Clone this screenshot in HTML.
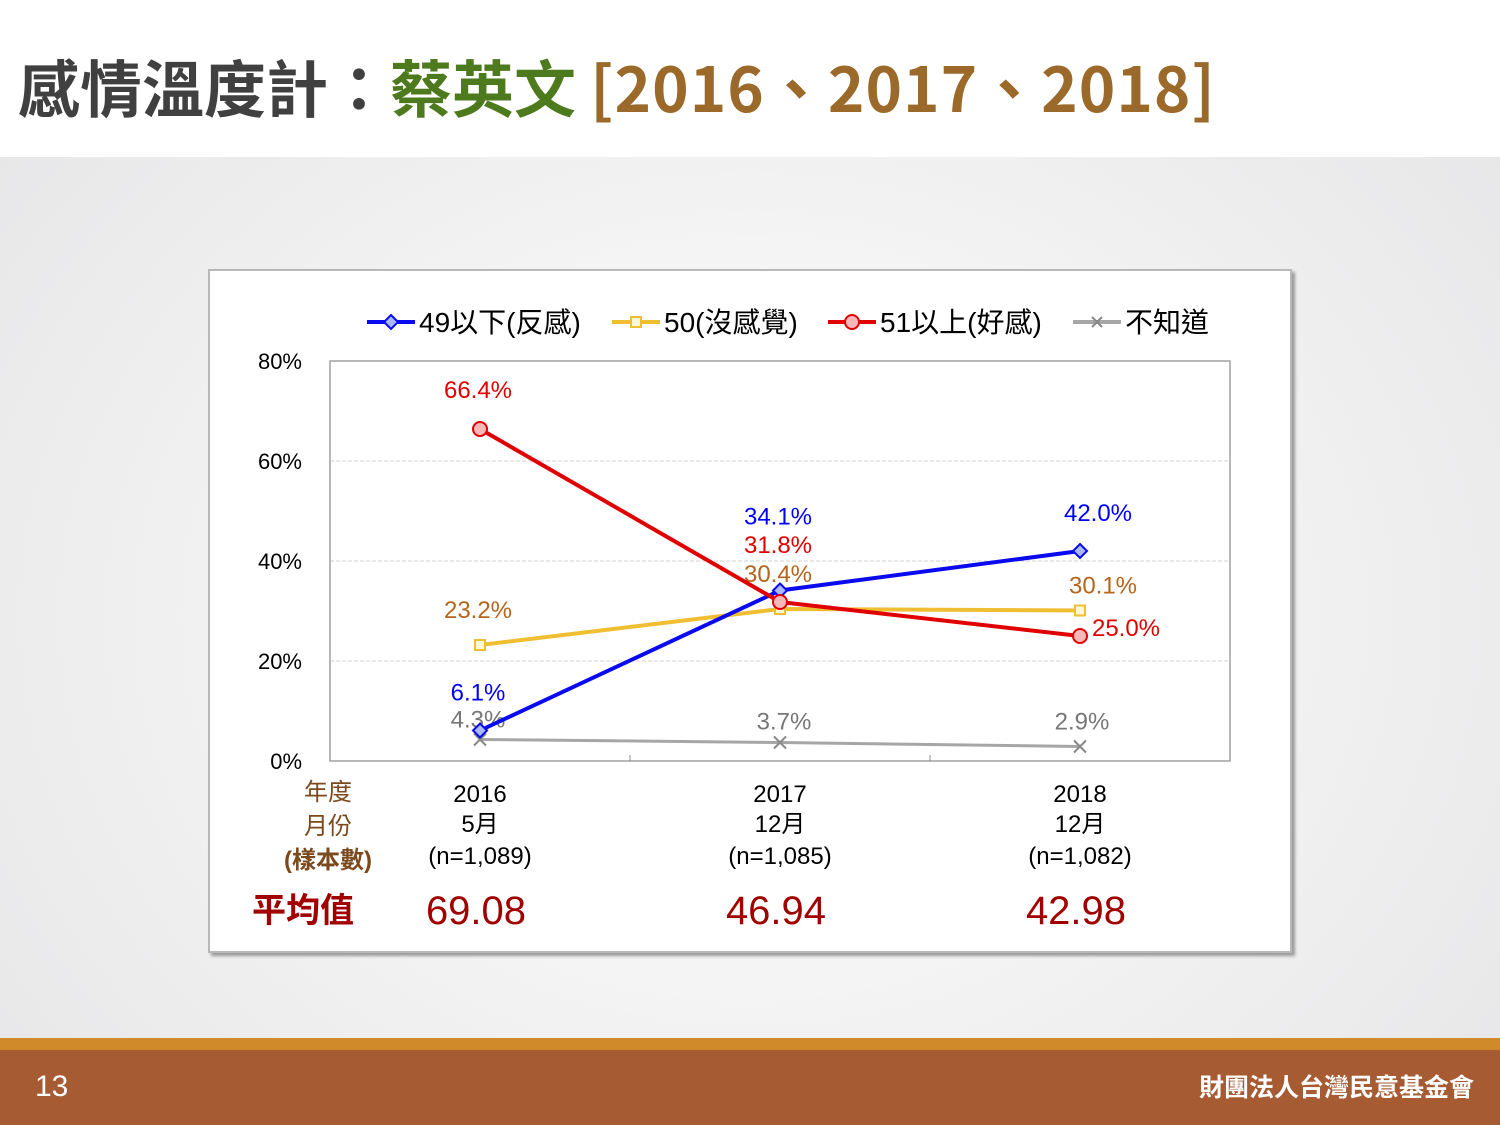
<!DOCTYPE html>
<html><head><meta charset="utf-8">
<style>
body{margin:0;width:1500px;height:1125px;overflow:hidden;position:relative;font-family:"Liberation Sans","Noto Sans CJK TC",sans-serif;background:radial-gradient(ellipse at 50% 55%,#ffffff 0%,#f3f3f3 45%,#e4e4e6 100%);}
#hdr{position:absolute;left:0;top:0;width:1500px;height:157px;background:#fff;}
#title{position:absolute;left:18px;top:40px;font-size:62px;font-weight:bold;white-space:nowrap;color:#404040;font-family:"Noto Sans CJK TC","Liberation Sans",sans-serif;}
#foot1{position:absolute;left:0;top:1038px;width:1500px;height:12px;background:#d08a2a;}
#foot2{position:absolute;left:0;top:1050px;width:1500px;height:75px;background:#a65b33;}
#frame{position:absolute;left:208px;top:269px;width:1080px;height:680px;background:#fff;border:2px solid #b8b8b8;box-shadow:3px 3px 3px #999;}
</style></head><body>
<div id="hdr"></div>
<div id="title">感情溫度計：<span style="color:#4e7a1e">蔡英文</span> <span style="color:#9b6a2a;letter-spacing:1px">[2016、2017、2018]</span></div>
<div id="frame"></div>
<div id="foot1"></div>
<div id="foot2"></div>
<div style="position:absolute;left:35px;top:1070px;font-size:30px;color:#fff">13</div>
<div style="position:absolute;right:26px;top:1068px;font-size:25px;color:#fff;font-weight:bold;font-family:'Noto Sans CJK TC',sans-serif">財團法人台灣民意基金會</div>
<svg id="chart" width="1500" height="1125" style="position:absolute;left:0;top:0" font-family="Liberation Sans, Noto Sans CJK TC, sans-serif"></svg>
<script>
const categories=["2016","2017","2018"];
const months=["5月","12月","12月"];
const samples=["(n=1,089)","(n=1,085)","(n=1,082)"];
const averages=["69.08","46.94","42.98"];
const against=[6.1,34.1,42.0];
const neutral=[23.2,30.4,30.1];
const favor=[66.4,31.8,25.0];
const unknown=[4.3,3.7,2.9];
const yTicks=[0,20,40,60,80];
const seriesNames=["49以下(反感)","50(沒感覺)","51以上(好感)","不知道"];
const svg=document.getElementById('chart');const NS='http://www.w3.org/2000/svg';
const X0=330,X1=1230,Y0=761,Y1=361;
const x=i=>X0+(X1-X0)/categories.length*(i+0.5);
const y=v=>Y0-(v/80)*(Y0-Y1);
function el(t,a,txt){const e=document.createElementNS(NS,t);for(const k in a)e.setAttribute(k,a[k]);if(txt!==undefined)e.textContent=txt;svg.appendChild(e);return e;}
let e;
yTicks.forEach(v=>{
 if(v>0&&v<80){e=el('line',{x1:X0,x2:X1,y1:y(v),y2:y(v),stroke:'#d0d0d0','stroke-dasharray':'4,2'});
 }
 e=el('text',{x:302,y:y(v)+8,'text-anchor':'end','font-size':22,fill:'#000'},v+'%');
 
});
e=el('rect',{x:X0,y:Y1,width:X1-X0,height:Y0-Y1,fill:'none',stroke:'#a0a0a0','stroke-width':1.5});

for(let i=1;i<categories.length;i++){e=el('line',{x1:X0+(X1-X0)/3*i,x2:X0+(X1-X0)/3*i,y1:Y0,y2:Y0-6,stroke:'#888'});
 }
const series=[
 {d:unknown,c:'#a6a6a6',m:'x',lc:'#777',name:'unknown',off:[[0,-12],[6,-13],[4,-17]],w:3},
 {d:neutral,c:'#f0be33',m:'s',lc:'#b5651d',name:'neutral',off:[[0,-27],[0,-27],[25,-17]],w:4},
 {d:against,c:'#0a0af0',m:'d',lc:'#0000ff',name:'against',off:[[0,-30],[0,-66],[20,-30]],w:4},
 {d:favor,c:'#e00000',m:'o',lc:'#e00000',name:'favor',off:[[0,-31],[0,-49],[48,0]],w:4}];
series.forEach(s=>{
 e=el('polyline',{points:s.d.map((v,i)=>x(i)+','+y(v)).join(' '),fill:'none',stroke:s.c,'stroke-width':s.w});
 
 s.d.forEach((v,i)=>{const px=x(i),py=y(v);
  if(s.m==='x'){e=el('path',{d:`M${px-6},${py-6}L${px+6},${py+6}M${px-6},${py+6}L${px+6},${py-6}`,stroke:'#888','stroke-width':2});}
  else if(s.m==='s'){e=el('rect',{x:px-5,y:py-5,width:10,height:10,fill:'#fff8d8',stroke:s.c,'stroke-width':2});}
  else if(s.m==='d'){e=el('path',{d:`M${px},${py-7}L${px+7},${py}L${px},${py+7}L${px-7},${py}Z`,fill:'#aab8ff',stroke:s.c,'stroke-width':2});}
  else {e=el('circle',{cx:px,cy:py,r:7,fill:'#f6b8b8',stroke:s.c,'stroke-width':2});}
  
  e=el('text',{x:px+s.off[i][0]-2,y:py+s.off[i][1],'text-anchor':'middle','font-size':24,fill:s.lc},v.toFixed(1)+'%');
  
 });
});
// legend
const leg=[{c:'#0a0af0',m:'d',x:367},{c:'#f0be33',m:'s',x:612},{c:'#e00000',m:'o',x:828},{c:'#a6a6a6',m:'x',x:1073}];
leg.forEach((l,i)=>{const ly=322;
 e=el('line',{x1:l.x,x2:l.x+48,y1:ly,y2:ly,stroke:l.c,'stroke-width':4});
 
 const px=l.x+24;
 if(l.m==='x')e=el('path',{d:`M${px-5},${ly-5}L${px+5},${ly+5}M${px-5},${ly+5}L${px+5},${ly-5}`,stroke:'#888','stroke-width':2});
 else if(l.m==='s')e=el('rect',{x:px-5,y:ly-5,width:10,height:10,fill:'#fff8d8',stroke:l.c,'stroke-width':2});
 else if(l.m==='d')e=el('path',{d:`M${px},${ly-7}L${px+7},${ly}L${px},${ly+7}L${px-7},${ly}Z`,fill:'#aab8ff',stroke:l.c,'stroke-width':2});
 else e=el('circle',{cx:px,cy:ly,r:7,fill:'#f6b8b8',stroke:l.c,'stroke-width':2});
 
 e=el('text',{x:l.x+52,y:ly+10,'font-size':28,fill:'#000'},seriesNames[i]);
 
});
// x labels
categories.forEach((c,i)=>{const px=x(i);
 e=el('text',{x:px,y:802,'text-anchor':'middle','font-size':24},c);
 e=el('text',{x:px,y:832,'text-anchor':'middle','font-size':24},months[i]);
 e=el('text',{x:px,y:864,'text-anchor':'middle','font-size':24},samples[i]);
 e=el('text',{x:px-4,y:924,'text-anchor':'middle','font-size':40,fill:'#a00000'},averages[i]);
});
[['年度',800],['月份',834],['(樣本數)',868]].forEach(r=>{e=el('text',{x:328,y:r[1],'text-anchor':'middle','font-size':24,fill:'#7a4a1e','font-weight':r[0][0]==='('?'bold':'normal'},r[0]);
 });
e=el('text',{x:303,y:922,'text-anchor':'middle','font-size':34,fill:'#a00000','font-weight':'bold'},'平均值');

</script>
</body></html>
